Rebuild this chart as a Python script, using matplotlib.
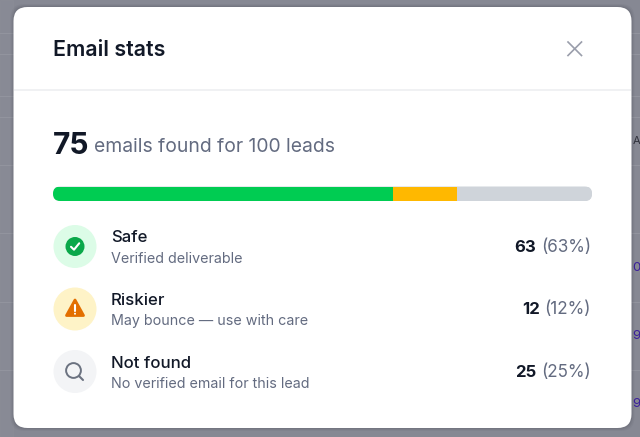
#!/usr/bin/env python3
import matplotlib
matplotlib.use('Agg')
import matplotlib.pyplot as plt
from matplotlib.patches import Circle, FancyBboxPatch, Polygon, Rectangle

title = 'Email stats'
found = 75
leads = 100
categories = ['Safe', 'Riskier', 'Not found']
subtitles = ['Verified deliverable', 'May bounce \u2014 use with care',
             'No verified email for this lead']
counts = [63, 12, 25]
bar_colors = ['#00cc52', '#ffb800', '#cfd4da']
icon_bg = ['#dcfce7', '#fef3c7', '#f3f4f6']

INK = '#111827'
GREY = '#636b80'
plt.rcParams['font.family'] = ['Inter', 'DejaVu Sans']

fig = plt.figure(figsize=(6.4, 4.37), dpi=100, facecolor='#868893')
ax = fig.add_axes([0, 0, 1, 1])
ax.set_xlim(0, 640)
ax.set_ylim(437, 0)
ax.axis('off')

# page behind the modal
for y in [33, 54, 96, 117, 165, 233, 302, 370]:
    ax.plot([0, 640], [y, y], color='#92949e', lw=0.8, zorder=1)
ax.add_patch(Rectangle((0, 0), 13, 437, color='#8b8d97', alpha=0.6, zorder=0.5))
ax.text(633, 141, 'A', fontsize=8, color='#30323c', va='center', zorder=1)
for y, s in [(268, '0'), (336, '9'), (404, '9')]:
    ax.text(632, y, s, fontsize=9.5, color='#3b1f9c', va='center', zorder=1)

# modal card
for grow, alpha in [(3, 0.05), (2, 0.07), (1, 0.09)]:
    ax.add_patch(FancyBboxPatch((13.5 - grow, 7 - grow), 618 + 2 * grow, 421 + 2 * grow,
                                boxstyle='round,pad=0,rounding_size=14', fc='#30323c',
                                ec='none', alpha=alpha, zorder=2))
ax.add_patch(FancyBboxPatch((13.5, 7), 618, 421, boxstyle='round,pad=0,rounding_size=14',
                            fc='white', ec='none', zorder=3))
ax.plot([14, 631], [90, 90], color='#eeeff1', lw=1.2, solid_capstyle='butt', zorder=4)

ax.text(53, 50, title, fontsize=15.4, fontweight='semibold', color=INK, va='center', zorder=5)
ax.plot([568, 581.5], [42, 55.5], color='#9a9eab', lw=1.2, zorder=5)
ax.plot([568, 581.5], [55.5, 42], color='#9a9eab', lw=1.2, zorder=5)

ax.text(53, 145.5, str(found), fontsize=21.5, fontweight='bold', color=INK, va='center', zorder=5)
ax.text(94.5, 147.5, f'emails found for {leads} leads', fontsize=13.9, color=GREY,
        va='center', zorder=5)

# stacked progress bar, clipped to a pill
bar_x, bar_w, bar_y, bar_h = 53, 539, 186.5, 14.5
pill = FancyBboxPatch((bar_x, bar_y), bar_w, bar_h,
                      boxstyle=f'round,pad=0,rounding_size={bar_h / 2}',
                      fc='#cfd4da', ec='none', zorder=5)
ax.add_patch(pill)
left = bar_x
for count, color in zip(counts, bar_colors):
    w = bar_w * count / sum(counts)
    seg = Rectangle((left, bar_y), w, bar_h, fc=color, ec='none', zorder=6)
    ax.add_patch(seg)
    seg.set_clip_path(pill)
    left += w

# rows
row_y = [246.5, 309, 371.5]
renderer = fig.canvas.get_renderer()
for i, y in enumerate(row_y):
    ax.add_patch(Circle((75, y), 21.5, fc=icon_bg[i], ec='none', zorder=5))
    ax.text(111, y - 8.5, categories[i], fontsize=12.1, fontweight='medium', color=INK,
            va='center', zorder=5)
    ax.text(111, y + 12.5, subtitles[i], fontsize=10.3, color=GREY, va='center', zorder=5)
    pct = ax.text(591, y + 1, f'({counts[i]}%)', fontsize=12.3, color=GREY, ha='right',
                  va='center', zorder=5)
    x0 = pct.get_window_extent(renderer).x0
    ax.text(x0 - 5, y + 1, str(counts[i]), fontsize=12, fontweight='bold', color=INK, ha='right',
            va='center', zorder=5)

# icons
cx, cy = 75, row_y[0]
ax.add_patch(Circle((cx, cy), 9.5, fc='#0aa84a', ec='none', zorder=6))
ax.plot([cx - 4, cx - 1, cx + 4.2], [cy + 0.3, cy + 3.2, cy - 3.2], color='white', lw=1.5,
        solid_joinstyle='round', solid_capstyle='round', zorder=7)

cx, cy = 75, row_y[1]
ax.add_patch(Polygon([(cx, cy - 9), (cx + 8.5, cy + 6.5), (cx - 8.5, cy + 6.5)], closed=True,
                     fc='#e36f00', ec='#e36f00', lw=2, joinstyle='round', zorder=6))
ax.plot([cx, cx], [cy - 4, cy + 1.5], color='white', lw=1.5, solid_capstyle='round', zorder=7)
ax.add_patch(Circle((cx, cy + 4.7), 1, fc='white', ec='none', zorder=7))

cx, cy = 73.5, row_y[2] - 1
ax.add_patch(Circle((cx, cy), 7.4, fc='none', ec='#6b7280', lw=1.4, zorder=6))
ax.plot([cx + 5.4, cx + 9.5], [cy + 5.4, cy + 9.5], color='#6b7280', lw=1.5,
        solid_capstyle='round', zorder=6)

fig.savefig('out.png', dpi=100, facecolor=fig.get_facecolor())
